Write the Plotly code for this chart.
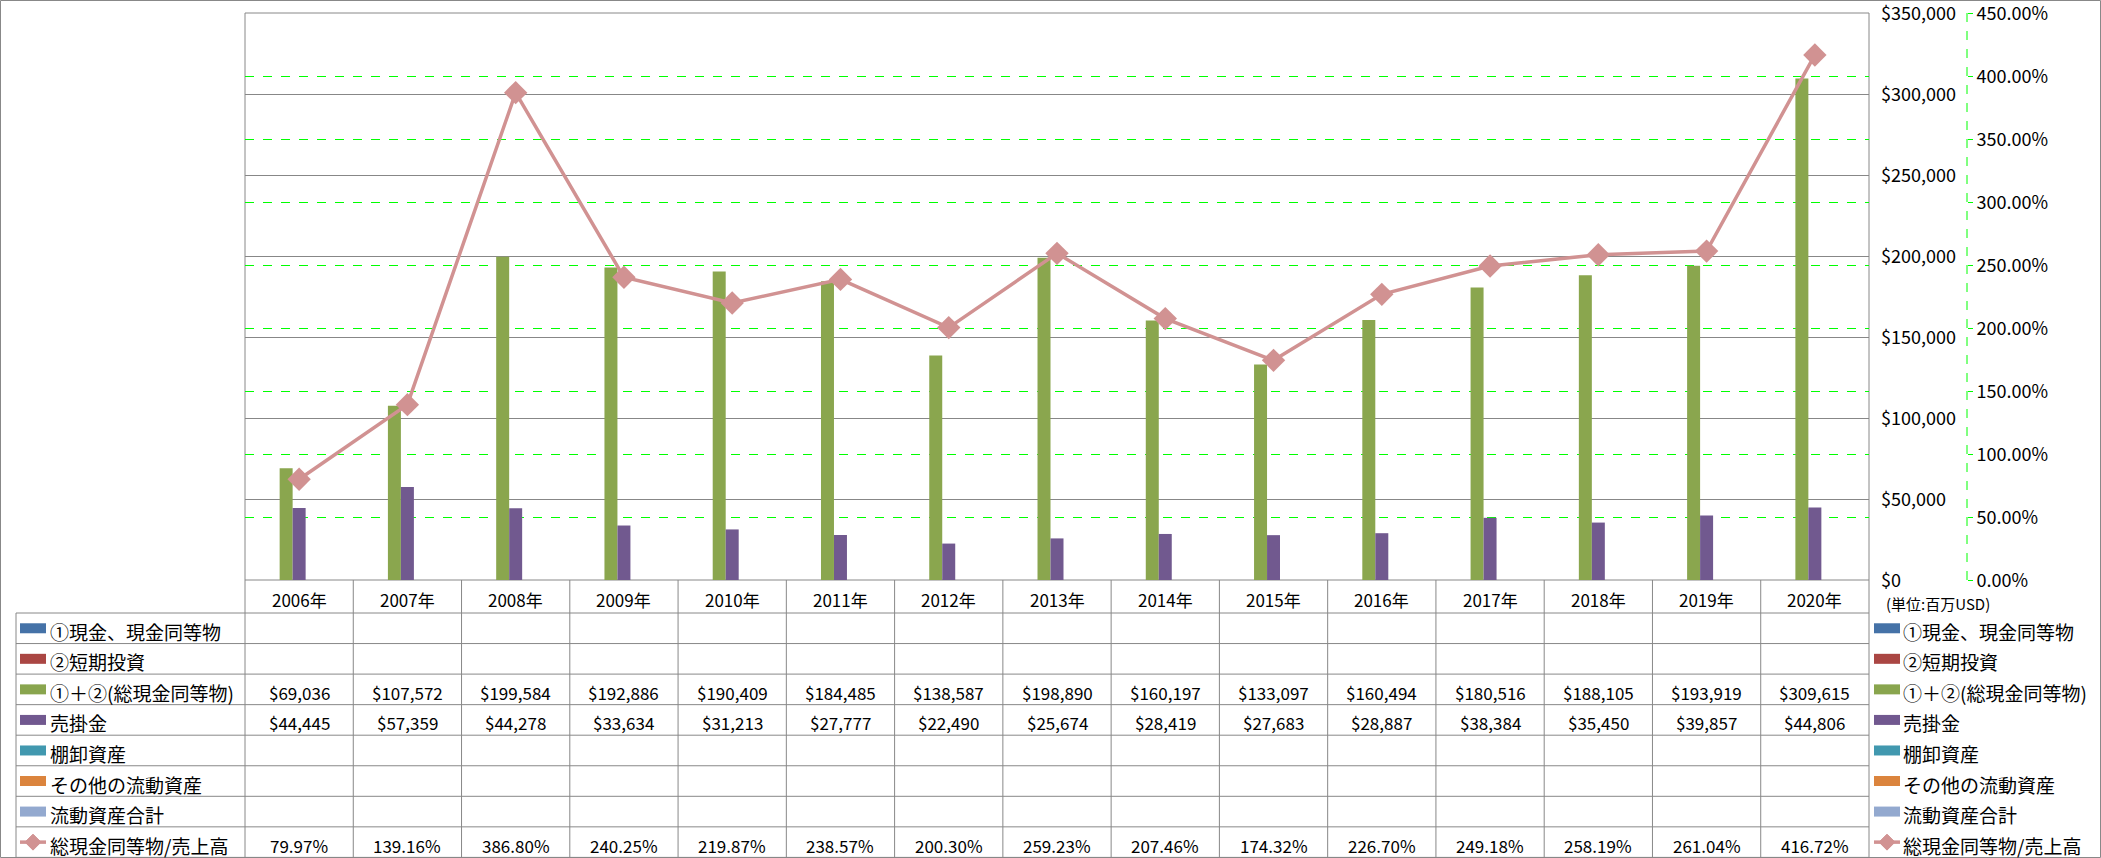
import plotly.graph_objects as go

W, H = 2101, 858

years = ["2006年", "2007年", "2008年", "2009年", "2010年", "2011年", "2012年", "2013年",
         "2014年", "2015年", "2016年", "2017年", "2018年", "2019年", "2020年"]
cash_total = [69036, 107572, 199584, 192886, 190409, 184485, 138587, 198890,
              160197, 133097, 160494, 180516, 188105, 193919, 309615]
receivables = [44445, 57359, 44278, 33634, 31213, 27777, 22490, 25674,
               28419, 27683, 28887, 38384, 35450, 39857, 44806]
cash_to_sales_pct = [79.97, 139.16, 386.80, 240.25, 219.87, 238.57, 200.30, 259.23,
                     207.46, 174.32, 226.70, 249.18, 258.19, 261.04, 416.72]

series_names = ["①現金、現金同等物", "②短期投資", "①＋②(総現金同等物)", "売掛金",
                "棚卸資産", "その他の流動資産", "流動資産合計", "総現金同等物/売上高"]
series_colors = ["#4572A7", "#AA4643", "#89A54E", "#71588F", "#4198AF", "#DB843D",
                 "#93A9CF", "#D19292"]
unit_label = "(単位:百万USD)"

GREEN_BAR = "#8AA64E"
PURPLE_BAR = "#71598F"
LINE_COL = "#D19292"
GRAY = "#888888"
FONT = "Noto Sans CJK JP"

# layout in pixels
PL, PR, PT, PB = 245, 1869, 13, 580
ROW0, ROWH = 613, 30.55
LBL_L = 16
TSHIFT = -3


def xp(px):
    return px / W


def yp(py):
    return 1 - py / H


fig = go.Figure()

fig.add_trace(go.Bar(x=years, y=cash_total, marker=dict(color=GREEN_BAR, line=dict(width=0)),
                     width=0.12, offset=-0.18, name=series_names[2], yaxis="y"))
fig.add_trace(go.Bar(x=years, y=receivables, marker=dict(color=PURPLE_BAR, line=dict(width=0)),
                     width=0.12, offset=-0.06, name=series_names[3], yaxis="y"))
fig.add_trace(go.Scatter(x=years, y=[v / 100 for v in cash_to_sales_pct], mode="lines+markers",
                         line=dict(color=LINE_COL, width=3.5),
                         marker=dict(symbol="diamond", size=18, color=LINE_COL),
                         name=series_names[7], yaxis="y2"))

shapes = []
annotations = []

# outer border
shapes.append(dict(type="rect", xref="paper", yref="paper", x0=xp(0.5), x1=xp(W - 0.5),
                   y0=yp(H - 0.5), y1=yp(0.5), line=dict(color=GRAY, width=1)))
# plot area border
shapes.append(dict(type="rect", xref="paper", yref="paper", x0=xp(PL), x1=xp(PR),
                   y0=yp(PB), y1=yp(PT), line=dict(color=GRAY, width=1), layer="below"))
# secondary axis dashed line
sx = 1967
shapes.append(dict(type="line", xref="paper", yref="paper", x0=xp(sx), x1=xp(sx),
                   y0=yp(PB), y1=yp(PT), line=dict(color="#00FF00", width=1, dash="dash")))

# table grid
n = len(years)
cw = (PR - PL) / n
tbl_bottom = ROW0 + ROWH * 8
for k in range(n + 1):
    x = PL + k * cw
    shapes.append(dict(type="line", xref="paper", yref="paper", x0=xp(x), x1=xp(x),
                       y0=yp(PB), y1=yp(tbl_bottom), line=dict(color=GRAY, width=1)))
shapes.append(dict(type="line", xref="paper", yref="paper", x0=xp(LBL_L), x1=xp(LBL_L),
                   y0=yp(ROW0), y1=yp(tbl_bottom), line=dict(color=GRAY, width=1)))
for r in range(9):
    y = ROW0 + r * ROWH
    shapes.append(dict(type="line", xref="paper", yref="paper", x0=xp(LBL_L), x1=xp(PR),
                       y0=yp(y), y1=yp(y), line=dict(color=GRAY, width=1)))

# header labels
for i, yr in enumerate(years):
    annotations.append(dict(x=xp(PL + (i + 0.5) * cw), y=yp((PB + ROW0) / 2), xref="paper", yref="paper",
                            text=yr, showarrow=False, xanchor="center", yanchor="middle",
                            yshift=TSHIFT, font=dict(size=17, family=FONT)))

# row values
row_values = {2: ["${:,}".format(v) for v in cash_total],
              3: ["${:,}".format(v) for v in receivables],
              7: ["{:.2f}%".format(v) for v in cash_to_sales_pct]}
for r, vals in row_values.items():
    cy = ROW0 + (r + 0.5) * ROWH
    for i, t in enumerate(vals):
        annotations.append(dict(x=xp(PL + (i + 0.5) * cw), y=yp(cy), xref="paper", yref="paper",
                                text=t, showarrow=False, xanchor="center", yanchor="middle",
                                yshift=TSHIFT, font=dict(size=17, family=FONT)))


def legend_key(x0, cy, idx):
    col = series_colors[idx]
    if idx == 7:
        shapes.append(dict(type="line", xref="paper", yref="paper", x0=xp(x0), x1=xp(x0 + 26),
                           y0=yp(cy), y1=yp(cy), line=dict(color=col, width=3.5)))
        cx = x0 + 13
        d = 8
        path = "M {} {} L {} {} L {} {} L {} {} Z".format(xp(cx - d), yp(cy), xp(cx), yp(cy - d),
                                                          xp(cx + d), yp(cy), xp(cx), yp(cy + d))
        shapes.append(dict(type="path", xref="paper", yref="paper", path=path,
                           fillcolor=col, line=dict(color=col, width=1)))
    else:
        shapes.append(dict(type="rect", xref="paper", yref="paper", x0=xp(x0), x1=xp(x0 + 26),
                           y0=yp(cy + 5), y1=yp(cy - 5), fillcolor=col, line=dict(width=0)))


for r, name in enumerate(series_names):
    cy = ROW0 + (r + 0.5) * ROWH
    legend_key(20, cy, r)
    annotations.append(dict(x=xp(48), y=yp(cy), xref="paper", yref="paper", text=name,
                            showarrow=False, xanchor="left", yanchor="middle", yshift=TSHIFT,
                            font=dict(size=19, family=FONT)))
    legend_key(1874, cy, r)
    annotations.append(dict(x=xp(1901), y=yp(cy), xref="paper", yref="paper", text=name,
                            showarrow=False, xanchor="left", yanchor="middle", yshift=TSHIFT,
                            font=dict(size=19, family=FONT)))

annotations.append(dict(x=xp(1884), y=yp(600), xref="paper", yref="paper", text=unit_label,
                        showarrow=False, xanchor="left", yanchor="middle", yshift=TSHIFT,
                        font=dict(size=15, family=FONT)))

fig.update_layout(
    width=W, height=H,
    margin=dict(l=0, r=0, t=0, b=0, autoexpand=False),
    paper_bgcolor="white", plot_bgcolor="white",
    showlegend=False,
    barmode="overlay",
    font=dict(family=FONT, size=17, color="black"),
    xaxis=dict(type="category", domain=[xp(PL), xp(PR)], range=[-0.5, n - 0.5], automargin=False,
               showticklabels=False, ticks="", showgrid=False, zeroline=False, showline=False),
    yaxis=dict(domain=[yp(PB), yp(PT)], range=[0, 350000], dtick=50000, tickformat="$,.0f",
               side="right", anchor="free", position=xp(1880), showgrid=True, automargin=False,
               gridcolor="#878787", gridwidth=1, zeroline=False, showline=False, ticks="",
               ticklabeloverflow="allow", ticklabelshift=1,
               tickfont=dict(size=18, family=FONT)),
    yaxis2=dict(overlaying="y", side="right", anchor="free", position=xp(sx), automargin=False,
                range=[0, 4.5], dtick=0.5, tickformat=".2%", showgrid=True,
                gridcolor="#00FF00", griddash="dash", gridwidth=1, zeroline=False,
                showline=False, ticks="outside", ticklen=5, tickcolor="#00FF00",
                ticklabeloverflow="allow", ticklabelshift=1,
                tickfont=dict(size=18, family=FONT)),
    shapes=shapes,
    annotations=annotations,
)

fig.write_html("out.html")
